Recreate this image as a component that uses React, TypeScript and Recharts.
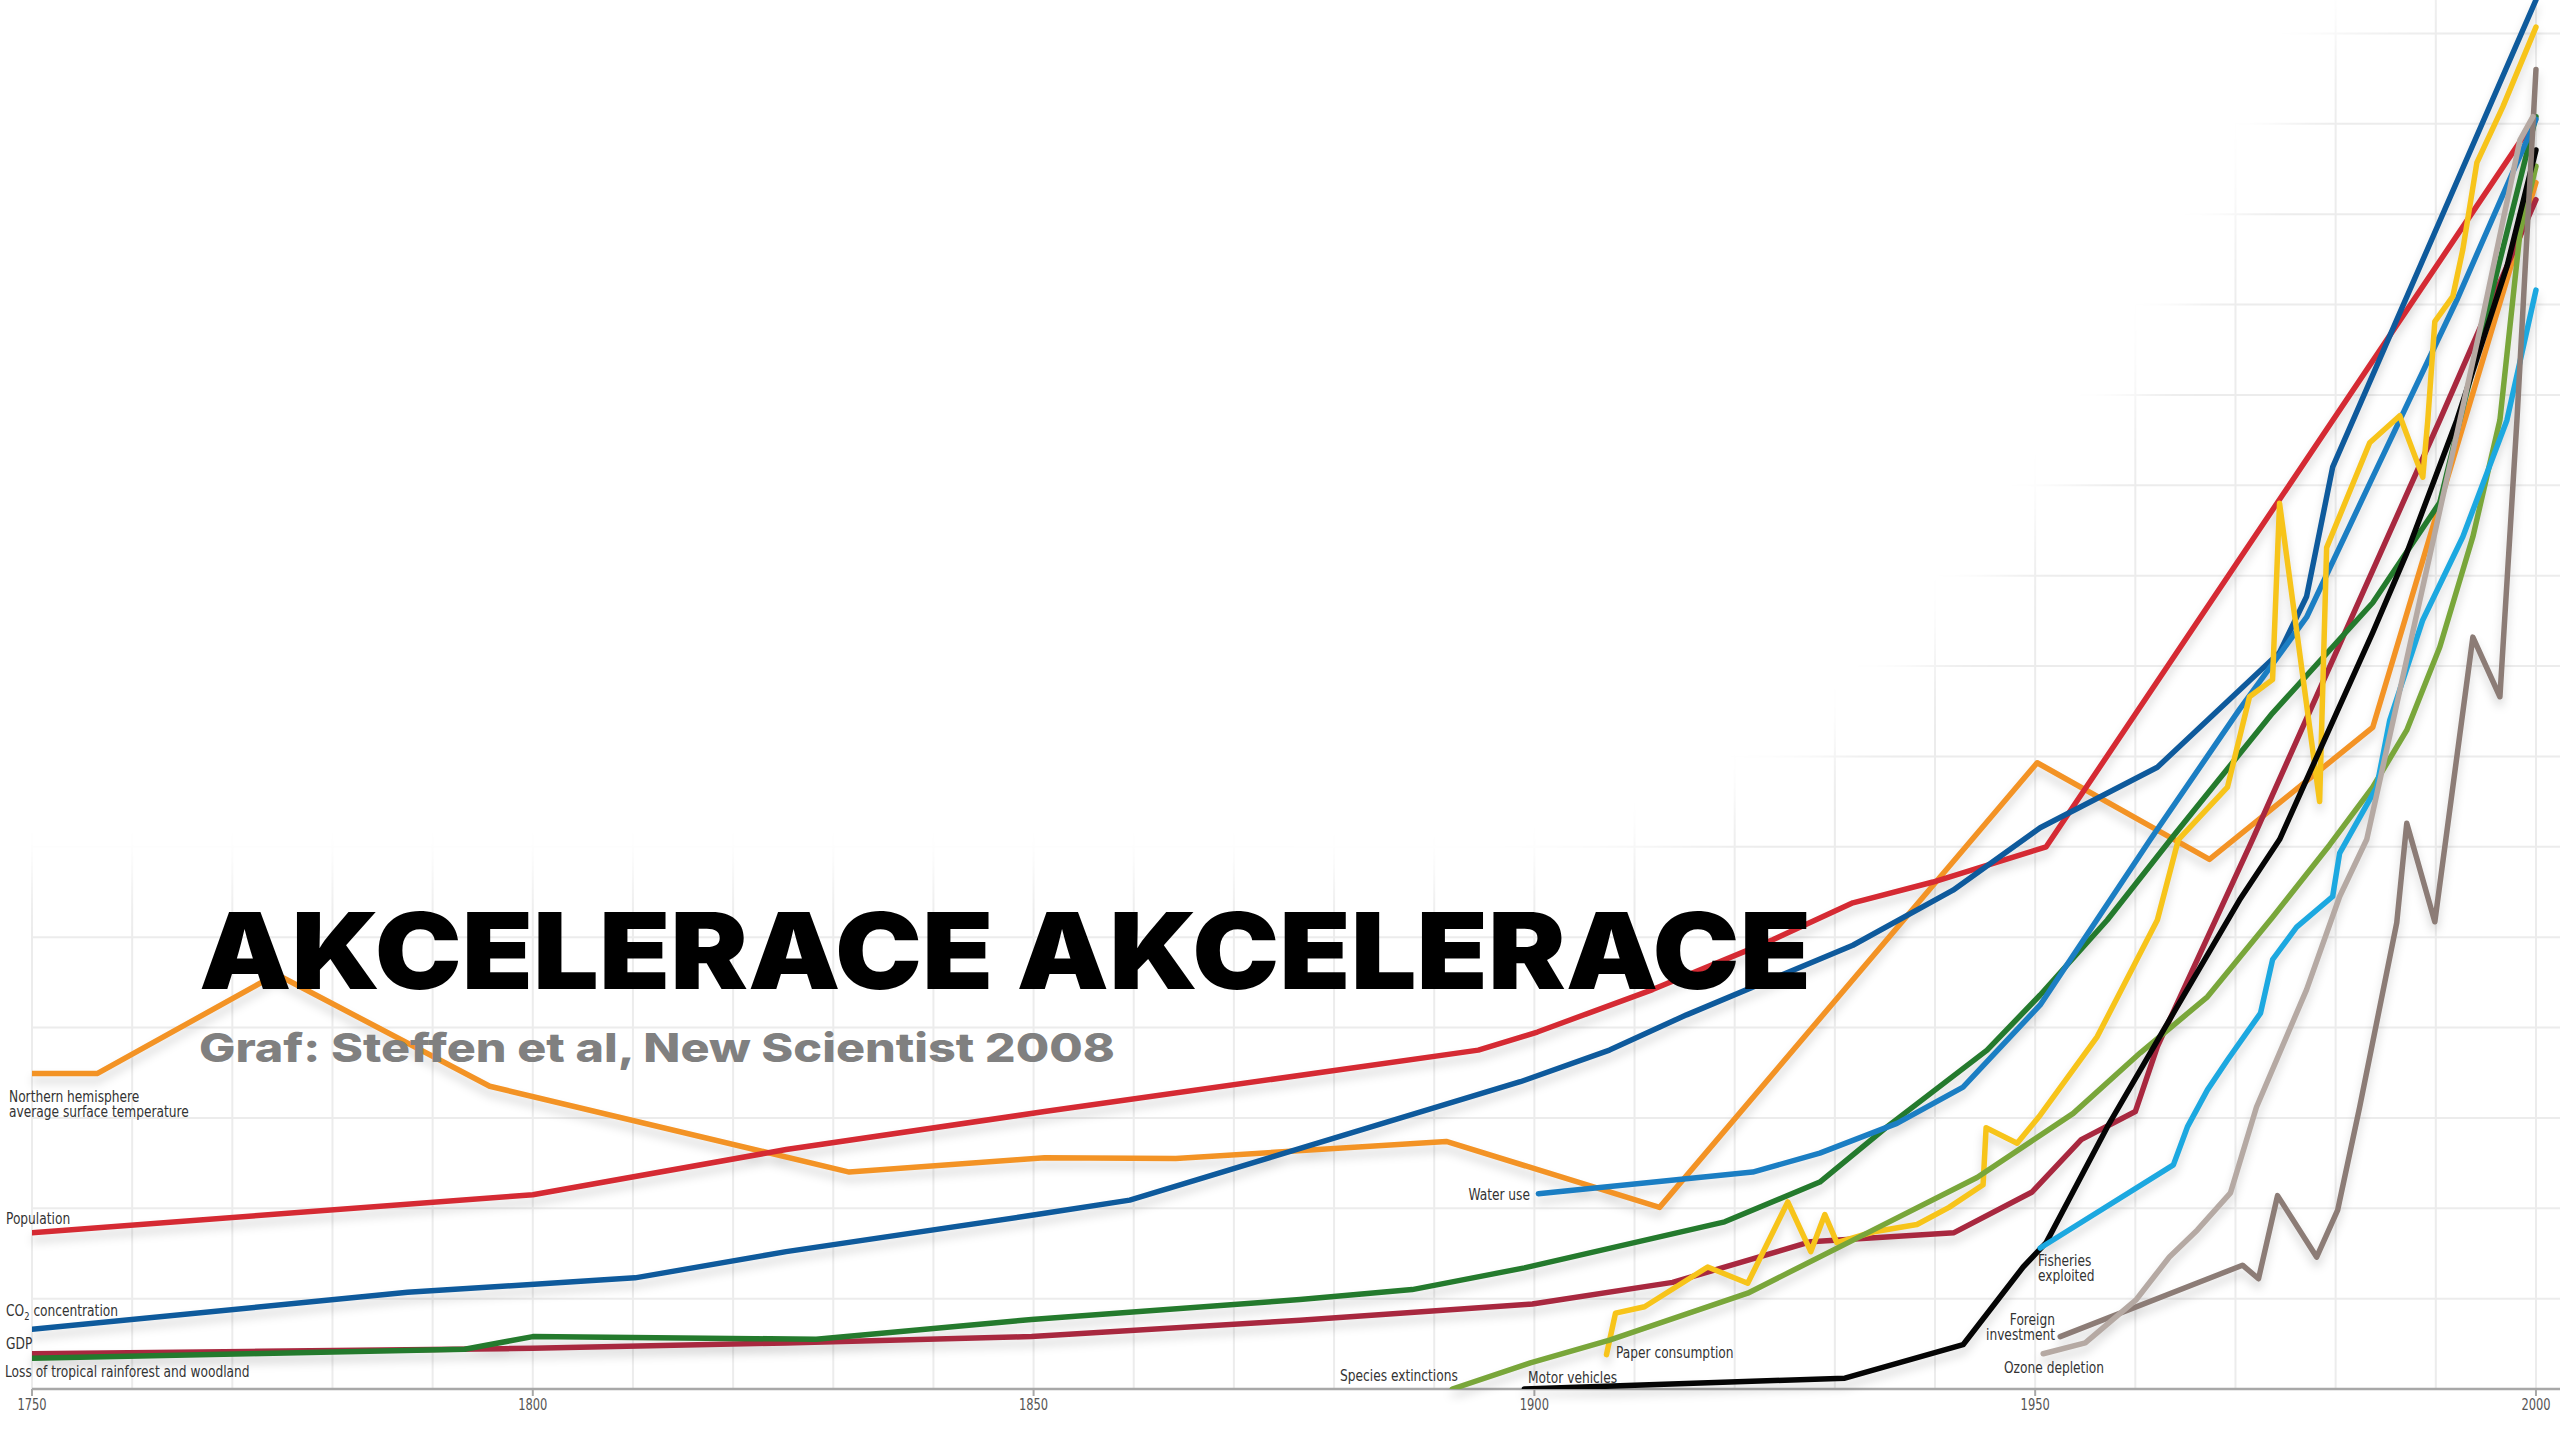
import React from 'react'
import { CartesianGrid, Line, LineChart, XAxis, YAxis } from 'recharts'

const W = 2560
const H = 1440
const X_MIN = 1750
const X_MAX = 2002.4
const Y_MAX = 15.37

const yearTicks = [1750, 1800, 1850, 1900, 1950, 2000]
const gridYears = [
  1750, 1760, 1770, 1780, 1790, 1800, 1810, 1820, 1830, 1840, 1850, 1860, 1870,
  1880, 1890, 1900, 1910, 1920, 1930, 1940, 1950, 1960, 1970, 1980, 1990, 2000,
]
const gridLevels = [1, 2, 3, 4, 5, 6, 7, 8, 9, 10, 11, 12, 13, 14, 15]

// index values, one unit = one horizontal grid step
const tempYears = [1750, 1756.5, 1774.4, 1795.7, 1831.6, 1851.1, 1864.2, 1891.2, 1912.5, 1950.2, 1967.4, 1983.7, 2000]
const tempValues = [3.49, 3.49, 4.59, 3.35, 2.4, 2.56, 2.55, 2.74, 2.01, 6.93, 5.86, 7.32, 13.35]

const popYears = [1750, 1800, 1825.3, 1851.1, 1894.4, 1900.3, 1911.8, 1923.8, 1931.8, 1939.8, 1951.1, 1999]
const popValues = [1.73, 2.15, 2.65, 3.07, 3.75, 3.95, 4.42, 4.97, 5.38, 5.61, 6.0, 13.9]

const co2Years = [1750, 1787.5, 1810.2, 1825.3, 1850.3, 1859.6, 1898.6, 1907.5, 1915.2, 1931.8, 1941.8, 1950.5, 1962.2, 1974.4, 1977.1, 1979.7, 2000]
const co2Values = [0.66, 1.07, 1.23, 1.52, 1.93, 2.09, 3.4, 3.75, 4.14, 4.91, 5.52, 6.21, 6.88, 8.15, 8.77, 10.2, 15.37]

const gdpYears = [1750, 1800, 1825.3, 1849.8, 1876.6, 1899.8, 1913.8, 1927.6, 1941.9, 1949.7, 1954.6, 1960, 1962.2, 1971.7, 1990.4, 2000]
const gdpValues = [0.39, 0.45, 0.51, 0.58, 0.76, 0.94, 1.18, 1.63, 1.73, 2.18, 2.76, 3.07, 3.79, 6.08, 10.72, 13.16]

const forestYears = [1750, 1793.2, 1800, 1828.3, 1849.8, 1876.6, 1887.8, 1899, 1919, 1928.5, 1935.2, 1945.2, 1950.5, 1957.2, 1963.8, 1973.7, 1983.7, 1990.4, 1992.4, 2000]
const forestValues = [0.34, 0.44, 0.58, 0.55, 0.77, 0.99, 1.1, 1.34, 1.85, 2.29, 2.9, 3.75, 4.36, 5.19, 6.12, 7.48, 8.7, 9.81, 10.72, 14.08]

const waterYears = [1900.4, 1921.8, 1928.5, 1936.2, 1942.8, 1950.5, 1961.5, 1970.4, 1977.1, 1983.7, 1992.1, 2000]
const waterValues = [2.16, 2.4, 2.61, 2.94, 3.34, 4.25, 6.08, 7.52, 8.54, 10.09, 12.05, 14.05]

const paperYears = [
  1907.2, 1908.1, 1911, 1917.3, 1921.3, 1925.3, 1927.6, 1929, 1930.2, 1933.9, 1938.2, 1941.4,
  1944.8, 1945.1, 1948.2, 1950.5, 1956.2, 1962.2, 1964.3, 1969.2, 1971.4, 1973.7, 1974.4, 1978.4,
  1979.1, 1983.4, 1986.4, 1988.7, 1989.2, 1989.9, 1991.7, 1992.7, 1994.1, 1996.7, 2000,
]
const paperValues = [
  0.38, 0.84, 0.91, 1.35, 1.17, 2.07, 1.52, 1.93, 1.62, 1.74, 1.82, 2.01,
  2.26, 2.89, 2.72, 3.03, 3.9, 5.19, 6.08, 6.66, 7.66, 7.85, 9.8, 6.5,
  9.31, 10.47, 10.77, 10.09, 10.72, 11.81, 12.09, 12.61, 13.57, 14.19, 15.07,
]

const speciesYears = [1891.8, 1899.6, 1907.5, 1921.3, 1933.3, 1944.2, 1953.8, 1960.5, 1967.2, 1973.7, 1979.4, 1983.7, 1987.1, 1990.4, 1993.7, 1996.4, 1998.4, 2000]
const speciesValues = [0, 0.29, 0.54, 1.06, 1.73, 2.34, 3.05, 3.72, 4.34, 5.22, 6.02, 6.66, 7.29, 8.21, 9.43, 10.72, 12.79, 13.53]

const motorYears = [1899, 1931, 1942.8, 1948.8, 1951.1, 1957.2, 1963.8, 1970.4, 1974.4, 1983.7, 1987.1, 1992.1, 1997.1, 2000]
const motorValues = [0, 0.12, 0.49, 1.35, 1.62, 2.9, 4.16, 5.41, 6.08, 8.37, 9.25, 10.72, 12.42, 13.71]

const fishYears = [1950.5, 1963.8, 1965.2, 1967.2, 1969.2, 1972.5, 1973.7, 1976.1, 1979.7, 1980.4, 1984.1, 1985.4, 1988.7, 1992.7, 1997.1, 2000]
const fishValues = [1.56, 2.48, 2.9, 3.31, 3.64, 4.16, 4.75, 5.11, 5.45, 5.93, 6.66, 7.4, 8.51, 9.43, 10.72, 12.16]

const foreignYears = [1952.5, 1970.7, 1972.3, 1974.2, 1978.1, 1980.2, 1982.4, 1986.1, 1987.1, 1989.9, 1993.7, 1996.4, 1998.1, 2000]
const foreignValues = [0.58, 1.37, 1.22, 2.14, 1.46, 1.98, 3.12, 5.16, 6.26, 5.17, 8.32, 7.66, 10.72, 14.6]

const ozoneYears = [1950.8, 1955, 1960.1, 1963.4, 1966.2, 1969.5, 1972.1, 1977.1, 1980.4, 1983.1, 1992.4, 1994.7, 1998.4, 1999.7]
const ozoneValues = [0.39, 0.51, 0.99, 1.46, 1.76, 2.17, 3.12, 4.42, 5.45, 6.08, 10.72, 11.87, 13.82, 14.08]

const toPoints = (years: number[], values: number[]) => years.map((year, i) => ({ year, v: values[i] }))

const series = [
  { key: 'temp', color: '#f39325', data: toPoints(tempYears, tempValues) },
  { key: 'pop', color: '#d52a33', data: toPoints(popYears, popValues) },
  { key: 'co2', color: '#0e5a9c', data: toPoints(co2Years, co2Values) },
  { key: 'gdp', color: '#a8283f', data: toPoints(gdpYears, gdpValues) },
  { key: 'forest', color: '#247a2d', data: toPoints(forestYears, forestValues) },
  { key: 'water', color: '#1b7ec3', data: toPoints(waterYears, waterValues) },
  { key: 'paper', color: '#f7c41a', data: toPoints(paperYears, paperValues) },
  { key: 'species', color: '#79a63a', data: toPoints(speciesYears, speciesValues) },
  { key: 'motor', color: '#050505', data: toPoints(motorYears, motorValues) },
  { key: 'fish', color: '#1ca8e0', data: toPoints(fishYears, fishValues) },
  { key: 'foreign', color: '#8c7c76', data: toPoints(foreignYears, foreignValues) },
  { key: 'ozone', color: '#b5a9a3', data: toPoints(ozoneYears, ozoneValues) },
]

const labelFont = "'Liberation Sans Narrow', 'DejaVu Sans Condensed', 'Liberation Sans', sans-serif"
const SQUEEZE = 0.85

const seriesLabels = [
  { lines: ['Northern hemisphere', 'average surface temperature'], x: 9, y: 1102, anchor: 'start' },
  { lines: ['Population'], x: 6, y: 1224, anchor: 'start' },
  { lines: ['GDP'], x: 6, y: 1349, anchor: 'start' },
  { lines: ['Loss of tropical rainforest and woodland'], x: 5, y: 1377, anchor: 'start' },
  { lines: ['Water use'], x: 1530, y: 1200, anchor: 'end' },
  { lines: ['Paper consumption'], x: 1616, y: 1358, anchor: 'start' },
  { lines: ['Species extinctions'], x: 1340, y: 1381, anchor: 'start' },
  { lines: ['Motor vehicles'], x: 1528, y: 1383, anchor: 'start' },
  { lines: ['Fisheries', 'exploited'], x: 2038, y: 1266, anchor: 'start' },
  { lines: ['Foreign', 'investment'], x: 2055, y: 1325, anchor: 'end' },
  { lines: ['Ozone depletion'], x: 2004, y: 1373, anchor: 'start' },
]

const fadePoints = '-200,-200 2440,-200 2420,0 2330,40 2290,123 2240,213 2190,304 2140,395 2073,485 2000,575 1927,666 1833,757 1660,847 1500,885 1200,880 -200,880'

const margin = { top: 0, right: 0, bottom: 0, left: 32 }

const YearTick = (props: any) => {
  const { x, y, payload } = props
  return (
    <g transform={`translate(${x},${y}) scale(${SQUEEZE},1)`}>
      <text textAnchor="middle" dy="0.75em" fill="#555" fontSize={15} fontFamily={labelFont}>
        {payload.value}
      </text>
    </g>
  )
}

const GridLayer = () => (
  <LineChart width={W} height={H} margin={margin} data={series[1].data}>
    <CartesianGrid stroke="#ececec" strokeWidth={2} horizontalValues={gridLevels} verticalValues={gridYears} />
    <XAxis
      type="number"
      dataKey="year"
      domain={[X_MIN, X_MAX]}
      allowDataOverflow
      ticks={yearTicks}
      interval={0}
      height={51}
      axisLine={{ stroke: '#a8a8a8', strokeWidth: 2.5 }}
      tickLine={{ stroke: '#a8a8a8', strokeWidth: 2 }}
      tickSize={7}
      tickMargin={3}
      tick={<YearTick />}
    />
    <YAxis hide type="number" domain={[0, Y_MAX]} allowDataOverflow />
  </LineChart>
)

const LinesLayer = () => (
  <LineChart width={W} height={H} margin={{ ...margin, bottom: 51 }}>
    <XAxis hide type="number" dataKey="year" domain={[X_MIN, X_MAX]} allowDataOverflow />
    <YAxis hide type="number" domain={[0, Y_MAX]} allowDataOverflow />
    {series.map(s => (
      <Line
        key={s.key}
        data={s.data}
        dataKey="v"
        type="linear"
        stroke={s.color}
        strokeWidth={5.5}
        strokeLinecap="round"
        strokeLinejoin="round"
        dot={false}
        activeDot={false}
        isAnimationActive={false}
      />
    ))}
  </LineChart>
)

const layer: React.CSSProperties = { position: 'absolute', left: 0, top: 0, width: W, height: H }

export default function App() {
  return (
    <div style={{ ...layer, background: '#fff', overflow: 'hidden' }}>
      <div style={layer}>
        <GridLayer />
      </div>
      <svg style={layer} width={W} height={H}>
        <defs>
          <filter id="fade" x="-20%" y="-20%" width="140%" height="140%">
            <feGaussianBlur stdDeviation="26" />
          </filter>
        </defs>
        <polygon points={fadePoints} fill="#fff" filter="url(#fade)" />
      </svg>
      <div style={{ ...layer, filter: 'drop-shadow(0px 7px 5px rgba(0,0,0,0.16))' }}>
        <LinesLayer />
      </div>
      <svg style={layer} width={W} height={H}>
        <g fontFamily={labelFont} fontSize={16} fill="#333">
          {seriesLabels.map(l => (
            <g key={l.lines[0]} transform={`translate(${l.x},${l.y}) scale(${SQUEEZE},1)`}>
              <text x={0} y={0} textAnchor={l.anchor}>
                {l.lines.map((t, i) => (
                  <tspan key={t} x={0} dy={i === 0 ? 0 : 15.5}>
                    {t}
                  </tspan>
                ))}
              </text>
            </g>
          ))}
          <g transform={`translate(6,1316) scale(${SQUEEZE},1)`}>
            <text x={0} y={0}>
              CO
              <tspan fontSize={11} dy={4}>2</tspan>
              <tspan dy={-4}> concentration</tspan>
            </text>
          </g>
        </g>
        <text
          x={199}
          y={989}
          fontFamily="Inter, 'Liberation Sans', sans-serif"
          fontWeight={900}
          fontSize={106}
          fill="#000"
          textLength={1612}
          lengthAdjust="spacingAndGlyphs"
        >
          AKCELERACE AKCELERACE
        </text>
        <text
          x={199}
          y={1062}
          fontFamily="Inter, 'Liberation Sans', sans-serif"
          fontWeight={800}
          fontSize={40}
          fill="#808080"
          textLength={916}
          lengthAdjust="spacingAndGlyphs"
        >
          Graf: Steffen et al, New Scientist 2008
        </text>
      </svg>
    </div>
  )
}
